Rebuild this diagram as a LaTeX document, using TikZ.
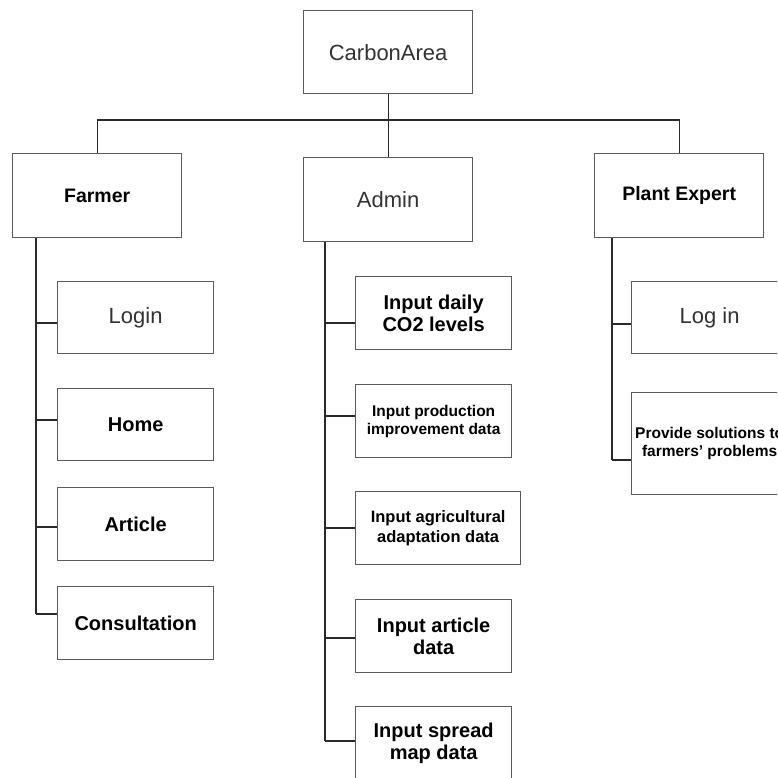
\documentclass[tikz,border=0pt]{standalone}
\usepackage{fontspec}
\setmainfont{Liberation Sans}
\definecolor{boxline}{HTML}{5A5A5A}
\definecolor{txtgray}{HTML}{333333}
\definecolor{wire}{HTML}{2A2A2A}
\tikzset{
  box/.style={draw=boxline, line width=1.3pt, anchor=north west, inner sep=0pt, align=center, fill=white},
  plain/.style={font=\fontsize{22}{26}\selectfont, text=txtgray},
  boldA/.style={font=\bfseries\fontsize{20}{22}\selectfont, text=black},
  boldB/.style={font=\bfseries\fontsize{15.5}{18}\selectfont, text=black},
  boldC/.style={font=\bfseries\fontsize{16.5}{20.5}\selectfont, text=black},
  trunk/.style={draw=wire, line width=1.3pt},
  stub/.style={draw=wire, line width=2.3pt},
}
\begin{document}
\begin{tikzpicture}[x=1pt,y=-1pt]
\clip (0,0) rectangle (777,778);
\fill[white] (0,0) rectangle (777,778);

% top level
\node[box,plain,minimum width=169pt,minimum height=83pt] (top) at (303,10) {CarbonArea};
\node[box,boldA,font=\bfseries\fontsize{19.5}{22}\selectfont,minimum width=169pt,minimum height=84pt] (farmer) at (12,153) {Farmer};
\node[box,plain,minimum width=169pt,minimum height=84pt] (admin) at (303,157) {Admin};
\node[box,boldA,font=\bfseries\fontsize{19.5}{22}\selectfont,minimum width=169pt,minimum height=84pt] (plant) at (594,153) {Plant Expert};

% farmer children
\node[box,plain,minimum width=156pt,minimum height=72pt] (f1) at (57,281) {Login};
\node[box,boldA,minimum width=156pt,minimum height=72pt] (f2) at (57,388) {Home};
\node[box,boldA,minimum width=156pt,minimum height=73pt] (f3) at (57,487) {Article};
\node[box,boldA,minimum width=156pt,minimum height=73pt] (f4) at (57,586) {Consultation};

% admin children
\node[box,boldA,minimum width=156pt,minimum height=73pt] (a1) at (355,276) {Input daily\\CO2 levels};
\node[box,boldB,minimum width=156pt,minimum height=73pt] (a2) at (355,384) {Input production\\improvement data};
\node[box,boldC,minimum width=165pt,minimum height=73pt] (a3) at (355,491) {Input agricultural\\adaptation data};
\node[box,boldA,minimum width=156pt,minimum height=73pt] (a4) at (355,599) {Input article\\data};
\node[box,boldA,minimum width=156pt,minimum height=73pt] (a5) at (355,706) {Input spread\\map data};

% plant expert children
\node[box,plain,minimum width=156pt,minimum height=72pt] (p1) at (631,281) {Log in};
\node[box,boldB,minimum width=156pt,minimum height=102pt] (p2) at (631,392) {Provide solutions to\\farmers' problems};

% top connectors
\coordinate (bus) at (387.5,120);
\draw[trunk] (top.south) -- (admin.north);
\draw[trunk] (farmer.north) |- (bus) -| (plant.north);

% trunks
\coordinate (ft) at ([xshift=24pt]farmer.south west);
\coordinate (at) at ([xshift=22pt]admin.south west);
\coordinate (pt) at ([xshift=18pt]plant.south west);

\draw[trunk] (ft) -- ([yshift=9pt]ft |- f4.west);
\draw[stub] ([yshift=-5pt]ft |- f1.west) -- ([yshift=-5pt]f1.west);
\draw[stub] ([yshift=5pt]ft |- f2.west) -- ([yshift=5pt]f2.west);
\draw[stub] ([yshift=-3pt]ft |- f3.west) -- ([yshift=-3pt]f3.west);
\draw[stub] ([yshift=9pt]ft |- f4.west) -- ([yshift=9pt]f4.west);

\draw[trunk] (at) -- ([yshift=2pt]at |- a5.west);
\draw[stub] ([yshift=-10pt]at |- a1.west) -- ([yshift=-10pt]a1.west);
\draw[stub] ([yshift=5pt]at |- a2.west) -- ([yshift=5pt]a2.west);
\draw[stub] (at |- a3.west) -- (a3.west);
\draw[stub] ([yshift=-2pt]at |- a4.west) -- ([yshift=-2pt]a4.west);
\draw[stub] ([yshift=2pt]at |- a5.west) -- ([yshift=2pt]a5.west);

\draw[trunk] (pt) -- ([yshift=-16pt]pt |- p2.west);
\draw[stub] ([yshift=-6pt]pt |- p1.west) -- ([yshift=-6pt]p1.west);
\draw[stub] ([yshift=-16pt]pt |- p2.west) -- ([yshift=-16pt]p2.west);
\end{tikzpicture}
\end{document}
